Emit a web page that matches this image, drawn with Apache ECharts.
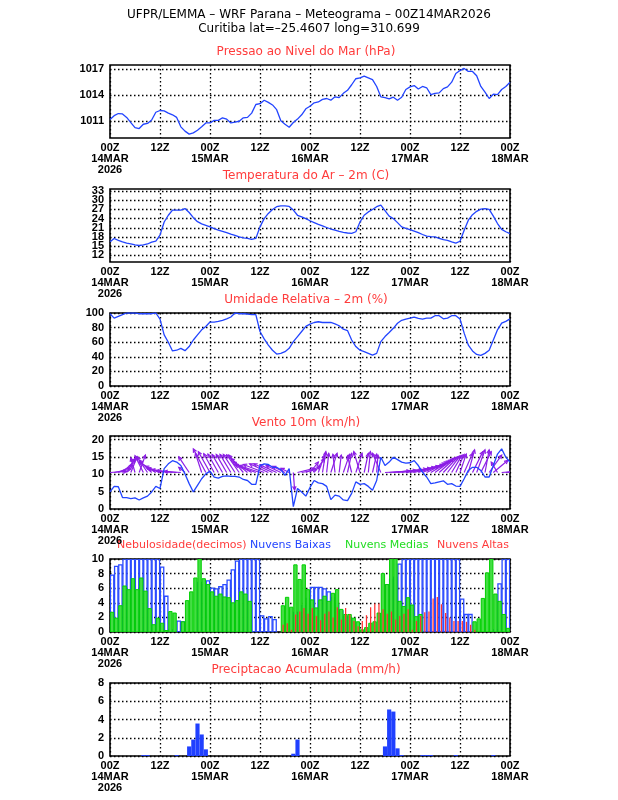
<!DOCTYPE html>
<html><head><meta charset="utf-8">
<script src="https://cdn.jsdelivr.net/npm/echarts@6/dist/echarts.min.js"></script>
<style>html,body{margin:0;padding:0;background:#fff}#c{width:618px;height:800px}</style>
</head><body><div id="c"></div>
<script>
// ---------------- DATA ----------------
const xTickLabels = ['00Z\n14MAR\n2026','12Z','00Z\n15MAR','12Z','00Z\n16MAR','12Z','00Z\n17MAR','12Z','00Z\n18MAR'];

const pressure = [1011.15,1011.6,1011.85,1011.8,1011.4,1010.8,1010.2,1010.1,1010.6,1010.7,
1011.1,1012.0,1012.2,1012.15,1011.9,1011.7,1011.4,1010.3,1009.8,1009.45,
1009.6,1009.9,1010.3,1010.75,1010.75,1011.05,1011.05,1011.35,1011.2,1010.75,
1010.85,1010.95,1011.35,1011.4,1011.9,1012.9,1013.0,1013.4,1013.15,1012.85,
1012.3,1011.0,1010.6,1010.25,1010.8,1011.2,1011.7,1012.4,1012.7,1013.1,
1013.2,1013.5,1013.6,1013.4,1013.8,1013.7,1014.2,1014.55,1015.2,1015.9,
1016.0,1016.2,1016.0,1015.8,1015.0,1013.8,1013.7,1013.55,1013.75,1013.4,
1013.75,1014.65,1014.95,1015.1,1014.7,1015.0,1014.85,1014.05,1014.2,1014.25,
1014.75,1014.95,1015.5,1016.5,1016.85,1017.1,1016.75,1016.75,1016.25,1015.0,
1014.35,1013.6,1014.1,1014.05,1014.65,1015.0,1015.5];
const pressureTicks = [1011,1014,1017];

const temperature = [16.4,17.5,16.9,16.4,16.0,15.7,15.4,15.2,15.4,15.7,
16.3,16.6,18.6,22.9,25.1,26.8,26.8,26.8,27.3,26.0,
24.3,23.0,22.3,21.8,21.3,20.7,20.2,19.8,19.4,18.9,
18.5,18.0,17.7,17.5,17.2,17.5,21.3,24.0,25.7,27.0,
27.9,28.2,28.2,28.0,26.8,25.1,24.6,24.0,23.3,22.7,
22.1,21.6,21.1,20.6,20.2,19.8,19.5,19.3,19.2,19.7,
22.9,25.1,26.2,27.0,27.9,28.4,26.6,24.8,24.0,22.7,
21.3,20.8,20.4,19.9,19.4,18.8,18.3,18.1,18.0,17.5,
17.1,16.9,16.4,16.0,16.6,20.2,23.5,25.3,26.4,27.1,
27.3,27.0,24.8,22.4,20.5,19.7,19.1];
const temperatureTicks = [12,15,18,21,24,27,30,33];

const humidity = [99,93,95.4,97.7,100,100,100,99,99,99,
99,100,91.7,70,60,48,49,51.6,48.4,54,
63,70,77,81.6,87.6,87.6,88.5,90,92,94.5,
100,99,99,98.6,97.7,97.7,74.7,64.5,56,49,
43.8,44.7,47,51.6,60.8,67.7,74.7,81.6,84.8,87,
88,87,87,87,85.2,82.5,77.9,76,63,54,
49,47,44.7,42.4,44.7,60.8,67.7,73.3,79,86,
90,91.7,93,94.5,92.6,91.7,93,93,96.3,96.3,
92,93,96.3,96.3,91.7,72.4,56,48,43.3,42,
44.7,49,63,77,86,88.5,92];

const windSpeed = [4.9,6.5,6.4,3.3,3.3,3.0,3.2,2.6,3.2,3.7,
4.9,6.5,5.9,11.6,13,13.9,13.5,12.5,10.1,7.3,
4.9,6.8,8.7,10.1,10.9,9.2,8.9,9.4,9.5,9.4,
9.4,9.2,8.5,8.2,7.1,7.1,12.5,13,12.8,12,
12,11.3,9.7,11.6,0.7,5.9,4.9,3.7,6.2,8.2,
7.5,7.3,6.5,2.7,4,3.7,2.6,2.4,4.5,7.8,
7.1,7.3,6.5,5.4,8.2,14.9,12.5,13.5,14.9,14.2,
13.5,13.2,13.3,13.9,12.5,10.6,9.2,7.3,7.5,7.8,
8.1,7.1,7.3,6.6,6.5,8.7,11.1,12,12,11.1,
9.2,9.2,12.5,15.8,17.3,14.9,13.5];

// wind vector components as drawn (u in hours, v in km/h axis units), null = no vector
const windU = [4,4,3.5,3,2,1.5,-1,1.5,-2,-2.5,
-3,-4,-3.5,-4,-5,-5,-5,-4,-1.5,-2.5,
null,null,-1.5,-3,-2.8,-2.5,-2.5,-2.5,-2.5,-2.6,
-2.8,-3,-3.5,-4,-4.5,-5,-5,-5,-4.5,-4.5,
-4,-3.5,-3,-2,0.3,4,3.5,3.5,2,2.5,
1.5,0.8,0.5,1.5,-0.5,0.5,1.5,1,-1,1.5,
-1.5,1,0.5,1,0.3,-2,6,6.5,7,7,
7,7,7,7,6.5,6,5.5,5,4.5,4,
3.5,3,2.5,2,1.5,2,1.5,2.5,2,2.5,
1,3,3.5,-1.5,3,2.5,1];
const windV = [0.3,1.0,2.0,3.5,4,4.5,4.2,5,4.8,4.5,
3.5,3,1.8,1.2,1,0.8,0.5,0.3,1.5,4.5,
null,null,5.5,6.8,6.0,5.4,5.3,5.2,5.2,5.2,
5.2,5.1,5.0,4.0,3.0,2.2,2.0,2.3,2.5,2.5,
2.2,2,1.8,1.2,-5,1.2,0.8,1.8,3,4,
5,6,5.5,5.5,5.2,5,5.2,5.5,4.8,5.5,
6,5.5,6,5.3,5,5.5,0.4,0.6,0.8,1.0,
1.2,1.5,1.8,2.2,2.6,3.0,3.3,3.6,4,4.3,
4.5,4.8,5,5.2,5.3,5.5,6.5,6,6.5,6,
6.5,5,3.5,3,0.3,0.3,0.2];

const cloudLow = [7.8,9.0,9.2,10,10,10,10,10,10,10,
10,10,8.9,4.9,0.3,0,1.5,1.4,0,0,
0,6.8,6.5,7.0,6.0,5.9,6.2,6.5,7.1,8.5,
9.7,10,10,10,10,10,2.2,1.8,2.1,1.7,
0,0,0,0,2.7,2.7,3.6,4.6,6.1,6.1,
6.1,5.9,5.5,4.7,3.7,2.9,2.1,1.9,0,0,
0,0,0,0,0,0,6.5,7.2,7.5,9.3,
10,10,10,10,10,10,10,10,10,10,
10,10,10,10,4.5,2.4,2.4,0,0,0,
0,0,0.3,6.6,10,10];
const cloudMid = [2.7,1.9,3.6,6.3,5.8,7.3,5.8,7.4,5.6,3.2,
1.0,1.9,1.2,0.2,2.8,2.6,0,1.4,4.3,5.5,
7.4,10,7.3,6.5,5.5,4.9,5.2,4.8,4.7,4.0,
4.3,5.5,5.2,4.2,0,0,0,0,0,0,
0,3.6,4.75,3.4,9.2,7.2,9.2,5.8,4.4,3.3,
4.4,4.9,4.2,5.3,5.8,3.1,2.4,2.4,1.9,1.4,
0.3,0.6,1.2,1.4,2.6,8.0,6.5,10,10,4.2,
3.5,4.7,3.7,2.1,2.4,0,0,0,0,0,
0,0,0,0,0,0,0,1.4,1.8,4.6,
8.1,10,5.2,4.2,2.4,0.5];
const cloudHigh = [0,0,0,0,0,0,0,0,0,0,
0,0,0,0,0,0,0,0,0,0,
0,0,0,0,0,0,0,0,0,0,
0,0,0,0,0,0,0,0,0,0,
0,1.0,1.2,0.3,2.4,2.8,3.3,2.5,3.3,2.2,
1.6,2.5,2.8,2.0,3.4,1.7,3.3,2.4,1.5,0.8,
1.5,2.3,3.4,3.9,3.9,3.1,2.5,2.8,1.7,2.2,
2.5,3.1,0.3,1.5,2.2,2.7,2.8,4.6,4.8,3.8,
2.6,2.0,1.5,1.5,1.5,1.4,1.0,0.3,0,0,
0,0,0,0,0,0];

const precipitation = [0,0,0,0,0,0,0,0,0.1,0.1,
0,0,0,0,0,0,0.1,0,0,1.05,
1.8,3.56,2.36,0.73,0,0,0,0,0,0,
0,0,0,0,0,0,0,0,0,0,
0,0,0,0,0.25,1.8,0,0,0,0,
0,0,0,0,0,0,0,0,0,0,
0,0,0,0,0,0,1.05,5.1,4.87,0.84,
0.1,0,0,0,0,0.1,0.1,0.1,0,0,
0,0,0,0.1,0,0,0,0,0,0,
0,0,0.1,0,0,0,0];

const titleLine1 = 'UFPR/LEMMA – WRF Parana – Meteograma – 00Z14MAR2026';
const titleLine2 = 'Curitiba lat=–25.4607 long=310.699';
const panelTitles = ['Pressao ao Nivel do Mar (hPa)','Temperatura do Ar – 2m (C)','Umidade Relativa – 2m (%)','Vento 10m (km/h)',null,'Preciptacao Acumulada (mm/h)'];
const cloudLegend = ['Nebulosidade(decimos)','Nuvens Baixas','Nuvens Medias','Nuvens Altas'];

// ---------------- STYLE / LAYOUT ----------------
const GRID_LEFT = 110, GRID_W = 400, GRID_H = 73;
const GRID_TOPS = [65, 189, 313, 436, 559, 683];
const LABEL_FONT = 'Liberation Sans';
const TITLE_FONT = 'DejaVu Sans';
const BLUE = '#2244ff', RED = '#ff3c3c', GREEN = '#22dd22', PURPLE = '#8c1ee6';
const WIND_BASE = 10.5;
const dotted = {color:'#000', type:[1.5,2.5], width:1.3};

const chart = echarts.init(document.getElementById('c'), null, {renderer:'canvas', width:618, height:800});

const grids = GRID_TOPS.map(t => ({left:GRID_LEFT, top:t, width:GRID_W, height:GRID_H, show:true, borderColor:'#000', borderWidth:1.6, backgroundColor:'transparent'}));

const xAxes = GRID_TOPS.map((t,i) => ({
  type:'value', gridIndex:i, min:0, max:96, interval:12,
  axisLine:{show:false}, axisTick:{show:false},
  splitLine:{show:true, lineStyle:dotted},
  axisLabel:{margin:4, fontSize:11, fontWeight:'bold', fontFamily:LABEL_FONT, color:'#000', lineHeight:11,
    formatter: v => xTickLabels[Math.round(v/12)]}
}));

function yLabel(extra){
  return Object.assign({margin:6, fontSize:11, fontWeight:'bold', fontFamily:LABEL_FONT, color:'#000',
    showMinLabel:true, showMaxLabel:true, hideOverlap:false, formatter: v => String(v)}, extra || {});
}
function yAx(i, extra){
  return Object.assign({
    type:'value', gridIndex:i,
    axisLine:{show:false}, axisTick:{show:false},
    splitLine:{show:true, lineStyle:dotted},
    axisLabel:yLabel()
  }, extra);
}
const yAxes = [
  yAx(0, {min:1009, max:1017.5, axisTick:{show:false, customValues:pressureTicks}, axisLabel:yLabel({customValues:pressureTicks})}),
  yAx(1, {min:9.8, max:33.7, axisTick:{show:false, customValues:temperatureTicks}, axisLabel:{show:false, customValues:temperatureTicks}}),
  yAx(2, {min:0, max:100, interval:20}),
  yAx(3, {min:0, max:21, interval:5, axisLabel:yLabel({showMaxLabel:false})}),
  yAx(4, {min:0, max:10, interval:2}),
  yAx(5, {min:0, max:8, interval:2})
];

const pairs = arr => arr.map((v,i) => [i, v]);
function lineSeries(idx, arr){
  return {type:'line', xAxisIndex:idx, yAxisIndex:idx, data:pairs(arr), showSymbol:false, symbol:'none',
    lineStyle:{color:BLUE, width:1.3}, z:5, animation:false};
}
function barRender(x0, x1, style){
  return function(params, api){
    const i = api.value(0), v = api.value(1);
    if (!(v > 0)) return null;
    const a = api.coord([i + x0, v]), b = api.coord([i + x1, 0]);
    return {type:'rect', shape:{x:a[0], y:a[1], width:b[0]-a[0], height:b[1]-a[1]}, style:style};
  };
}
function barSeries(idx, arr, x0, x1, style, z){
  return {type:'custom', xAxisIndex:idx, yAxisIndex:idx, data:pairs(arr), clip:true, z:z, animation:false,
    renderItem: barRender(x0, x1, style)};
}

// temperature tick labels (drawn so that crowded labels are all kept, as in the original)
const tempLabels = {
  type:'custom', xAxisIndex:1, yAxisIndex:1, data:temperatureTicks.map(v => [0, v]), clip:false, z:6, animation:false, silent:true,
  renderItem(params, api){
    const p = api.coord([0, api.value(1)]);
    return {type:'text', x:p[0]-6, y:p[1], style:{text:String(api.value(1)), font:'bold 11px "'+LABEL_FONT+'"', fill:'#000', textAlign:'right', textVerticalAlign:'middle'}};
  }
};

const windData = [];
windU.forEach((u,i) => { if (u !== null) windData.push([i, u, windV[i]]); });

const windVectors = {
  type:'custom', xAxisIndex:3, yAxisIndex:3, data:windData, clip:true, z:4, animation:false,
  renderItem(params, api){
    const i = api.value(0), u = api.value(1), v = api.value(2);
    const p0 = api.coord([i, WIND_BASE]), p1 = api.coord([i + u, WIND_BASE + v]);
    const ang = Math.atan2(p1[1]-p0[1], p1[0]-p0[0]);
    const hl = 4, ha = 0.45;
    const h1 = [p1[0]-hl*Math.cos(ang-ha), p1[1]-hl*Math.sin(ang-ha)];
    const h2 = [p1[0]-hl*Math.cos(ang+ha), p1[1]-hl*Math.sin(ang+ha)];
    return {type:'group', children:[
      {type:'line', shape:{x1:p0[0], y1:p0[1], x2:p1[0], y2:p1[1]}, style:{stroke:PURPLE, lineWidth:1.2}},
      {type:'polyline', shape:{points:[h1, p1, h2]}, style:{stroke:PURPLE, fill:null, lineWidth:1.2}}
    ]};
  }
};

const graphics = [
  {type:'text', x:309, y:15, style:{text:titleLine1, font:'12px "'+TITLE_FONT+'"', fill:'#000', textAlign:'center', textVerticalAlign:'middle'}},
  {type:'text', x:309, y:29, style:{text:titleLine2, font:'12px "'+TITLE_FONT+'"', fill:'#000', textAlign:'center', textVerticalAlign:'middle'}}
];
panelTitles.forEach((t, i) => {
  if (!t) return;
  graphics.push({type:'text', x:306, y:GRID_TOPS[i]-13.5, style:{text:t, font:'12px "'+TITLE_FONT+'"', fill:RED, textAlign:'center', textVerticalAlign:'middle'}});
});
const legendX = [117, 250, 345, 437];
const legendCol = [RED, BLUE, GREEN, RED];
cloudLegend.forEach((t, k) => {
  graphics.push({type:'text', x:legendX[k], y:GRID_TOPS[4]-13.5, style:{text:t, font:'11px "'+TITLE_FONT+'"', fill:legendCol[k], textAlign:'left', textVerticalAlign:'middle'}});
});

chart.setOption({
  animation:false,
  backgroundColor:'#fff',
  grid:grids, xAxis:xAxes, yAxis:yAxes,
  graphic:graphics,
  series:[
    lineSeries(0, pressure),
    lineSeries(1, temperature),
    tempLabels,
    lineSeries(2, humidity),
    windVectors,
    lineSeries(3, windSpeed),
    barSeries(4, cloudLow, 0.1, 0.9, {fill:'none', stroke:'#2a4bff', lineWidth:1.3}, 3),
    barSeries(4, cloudMid, 0.1, 0.9, {fill:'#44dd44', stroke:'#00d000', lineWidth:1}, 4),
    barSeries(4, cloudHigh, 0.4, 0.7, {fill:'#ff3030'}, 5),
    barSeries(5, precipitation, -0.5, 0.5, {fill:'#2040ff'}, 4)
  ]
});
</script></body></html>
